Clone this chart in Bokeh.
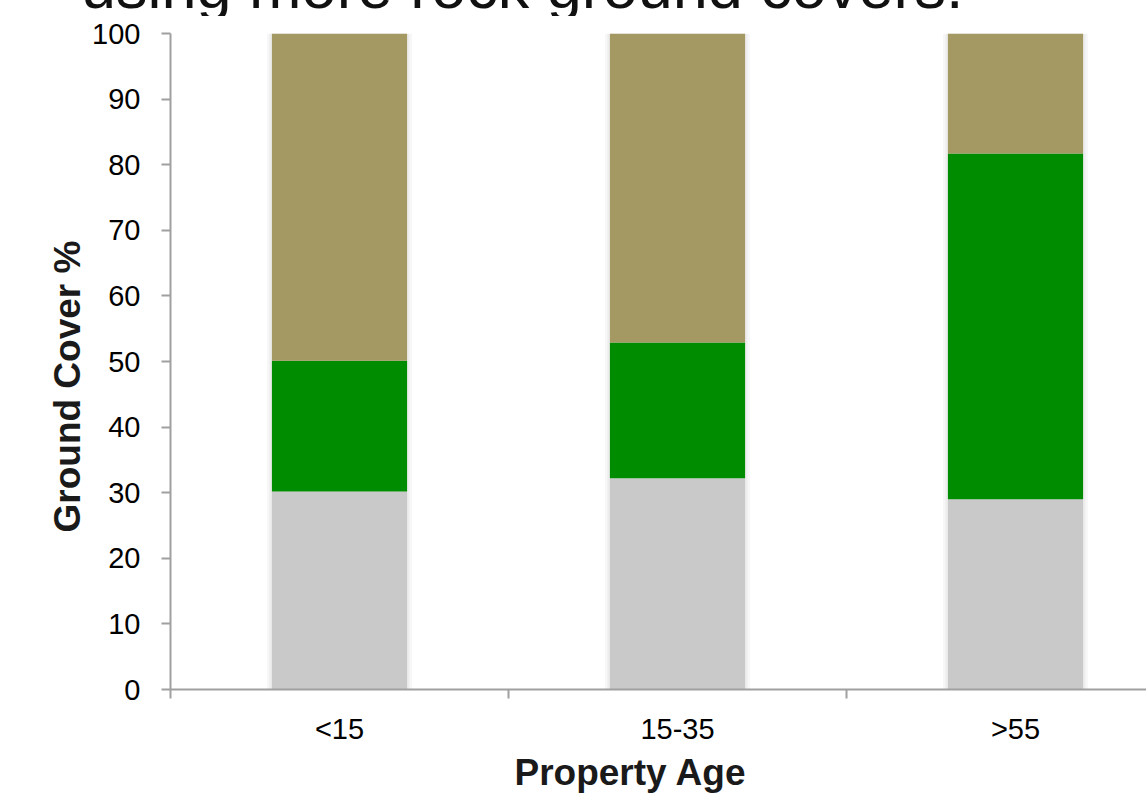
from bokeh.plotting import figure
from bokeh.layouts import column
from bokeh.models import ColumnDataSource, FixedTicker, Range1d, Title, Div
from bokeh.embed import file_html
from bokeh.resources import INLINE

# ---- data ----
categories = ["<15", "15-35", ">55"]
rock = [30.2, 32.2, 29.0]        # grey (bottom)
plants = [19.9, 20.7, 52.7]      # green (middle)
mulch = [49.9, 47.1, 18.3]       # tan (top)
y_ticks = [0, 10, 20, 30, 40, 50, 60, 70, 80, 90, 100]

title_text = "using more rock ground covers."
x_title = "Property Age"
y_title = "Ground Cover %"

colors = ["#C9C9C9", "#008C00", "#A49863"]
FONT = "Liberation Sans"
AX = "#A0A0A0"

# ---- top strip with the (cropped) slide title ----
TOP_H = 16
top = Div(
    text=('<div style="position:relative;height:%dpx;width:1146px;overflow:hidden;">'
          '<div style="position:absolute;top:-49px;left:81px;white-space:nowrap;'
          'font-family:\'Liberation Sans\';font-size:63px;line-height:70px;color:#111111;">'
          '%s</div></div>') % (TOP_H, title_text),
    width=1146, height=TOP_H,
    styles={"overflow": "hidden", "margin": "0", "padding": "0"})

# ---- main chart ----
x_centers = [i + 0.5 for i in range(len(categories))]
bounds = [i for i in range(len(categories) + 1)]
src = ColumnDataSource(dict(x=x_centers, rock=rock, plants=plants, mulch=mulch,
                            top=[r + p_ + m for r, p_, m in zip(rock, plants, mulch)]))

p = figure(width=1146, height=795 - TOP_H,
           x_range=Range1d(0, 976 / 338), y_range=Range1d(0, 100),
           output_backend="svg", toolbar_location=None,
           min_border_left=170, min_border_right=0,
           min_border_top=33 - TOP_H, min_border_bottom=106)
p.outline_line_color = None
p.xgrid.grid_line_color = None
p.ygrid.grid_line_color = None

# soft shadow behind bars
p.vbar(x="x", top="top", bottom=0, width=0.4 + 10 / 338, source=src,
       fill_color="black", fill_alpha=0.03, line_color=None)
p.vbar(x="x", top="top", bottom=0, width=0.4 + 5 / 338, source=src,
       fill_color="black", fill_alpha=0.04, line_color=None)

p.vbar_stack(["rock", "plants", "mulch"], x="x", width=0.4, source=src,
             color=colors, line_color=None)

# x axis
xa = p.xaxis[0]
xa.ticker = FixedTicker(ticks=x_centers, minor_ticks=bounds)
xa.major_label_overrides = {xc: c for xc, c in zip(x_centers, categories)}
xa.major_tick_out = 0
xa.major_tick_in = 0
xa.minor_tick_out = 9
xa.minor_tick_in = 0
xa.minor_tick_line_color = AX
xa.minor_tick_line_width = 2
xa.axis_line_color = AX
xa.axis_line_width = 2
xa.major_label_text_font = FONT
xa.major_label_text_font_size = "29px"
xa.major_label_text_color = "black"
xa.major_label_standoff = 14

# y axis
ya = p.yaxis[0]
ya.ticker = FixedTicker(ticks=y_ticks)
ya.major_tick_out = 9
ya.major_tick_in = 0
ya.minor_tick_out = 0
ya.minor_tick_in = 0
ya.major_tick_line_color = AX
ya.major_tick_line_width = 2
ya.axis_line_color = AX
ya.axis_line_width = 2
ya.major_label_text_font = FONT
ya.major_label_text_font_size = "29px"
ya.major_label_text_color = "black"
ya.major_label_standoff = 21

# axis titles (as side titles so they can be offset like the original)
p.add_layout(Title(text=x_title, align="left", offset=344, standoff=5,
                   text_font=FONT, text_font_size="37px", text_font_style="bold",
                   text_color="#1a1a1a"), "below")
p.add_layout(Title(text=y_title, align="left", offset=157, standoff=4,
                   text_font=FONT, text_font_size="37px", text_font_style="bold",
                   text_color="#1a1a1a"), "left")

open("out.html", "w").write(file_html(column(top, p, spacing=0), INLINE))
